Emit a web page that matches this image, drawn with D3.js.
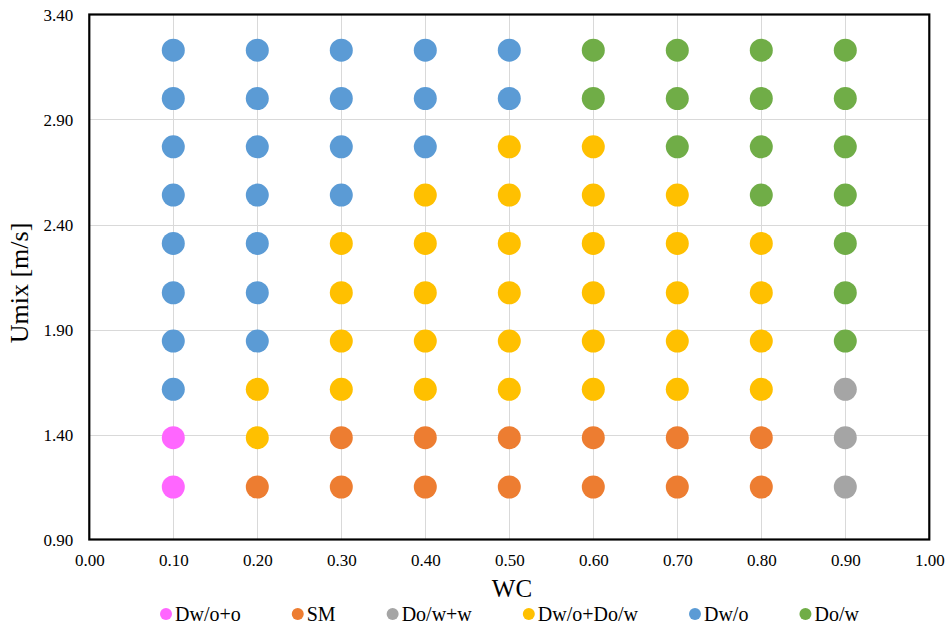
<!DOCTYPE html>
<html>
<head>
<meta charset="utf-8">
<script src="https://cdn.jsdelivr.net/npm/d3@7"></script>
<style>
  html, body { margin: 0; padding: 0; background: #fff; }
  svg { display: block; }
  svg text { font-family: "Liberation Serif", "Times New Roman", "DejaVu Serif", serif !important; fill: #000; }
</style>
</head>
<body>
<svg id="chart" width="952" height="627" font-family="Liberation Serif"></svg>
<script>
// ---- data ----
const wcValues = [0.1, 0.2, 0.3, 0.4, 0.5, 0.6, 0.7, 0.8, 0.9];
const umixRows = [1.15, 1.385, 1.615, 1.845, 2.075, 2.31, 2.54, 2.77, 3.0, 3.23];
// regime per row (bottom to top), per WC column
const regimeGrid = [
  ["Dw/o+o", "SM", "SM", "SM", "SM", "SM", "SM", "SM", "Do/w+w"],
  ["Dw/o+o", "Dw/o+Do/w", "SM", "SM", "SM", "SM", "SM", "SM", "Do/w+w"],
  ["Dw/o", "Dw/o+Do/w", "Dw/o+Do/w", "Dw/o+Do/w", "Dw/o+Do/w", "Dw/o+Do/w", "Dw/o+Do/w", "Dw/o+Do/w", "Do/w+w"],
  ["Dw/o", "Dw/o", "Dw/o+Do/w", "Dw/o+Do/w", "Dw/o+Do/w", "Dw/o+Do/w", "Dw/o+Do/w", "Dw/o+Do/w", "Do/w"],
  ["Dw/o", "Dw/o", "Dw/o+Do/w", "Dw/o+Do/w", "Dw/o+Do/w", "Dw/o+Do/w", "Dw/o+Do/w", "Dw/o+Do/w", "Do/w"],
  ["Dw/o", "Dw/o", "Dw/o+Do/w", "Dw/o+Do/w", "Dw/o+Do/w", "Dw/o+Do/w", "Dw/o+Do/w", "Dw/o+Do/w", "Do/w"],
  ["Dw/o", "Dw/o", "Dw/o", "Dw/o+Do/w", "Dw/o+Do/w", "Dw/o+Do/w", "Dw/o+Do/w", "Do/w", "Do/w"],
  ["Dw/o", "Dw/o", "Dw/o", "Dw/o", "Dw/o+Do/w", "Dw/o+Do/w", "Do/w", "Do/w", "Do/w"],
  ["Dw/o", "Dw/o", "Dw/o", "Dw/o", "Dw/o", "Do/w", "Do/w", "Do/w", "Do/w"],
  ["Dw/o", "Dw/o", "Dw/o", "Dw/o", "Dw/o", "Do/w", "Do/w", "Do/w", "Do/w"]
];
const seriesNames = ["Dw/o+o", "SM", "Do/w+w", "Dw/o+Do/w", "Dw/o", "Do/w"];
const seriesColors = ["#FF66FF", "#ED7D31", "#A5A5A5", "#FFC000", "#5B9BD5", "#70AD47"];
const xTicks = [0, 0.1, 0.2, 0.3, 0.4, 0.5, 0.6, 0.7, 0.8, 0.9, 1.0];
const yTicks = [0.9, 1.4, 1.9, 2.4, 2.9, 3.4];
const xTitle = "WC";
const yTitle = "Umix [m/s]";

// ---- layout ----
const FONT = "Liberation Serif";
const svg = d3.select("#chart");
const plot = { left: 89.3, right: 929.3, top: 14.5, bottom: 539.5 };

const x = d3.scaleLinear().domain([0, 1]).range([plot.left, plot.right]);
const y = d3.scaleLinear().domain([0.9, 3.4]).range([plot.bottom, plot.top]);
const color = d3.scaleOrdinal().domain(seriesNames).range(seriesColors);

// gridlines
const grid = svg.append("g");
grid.selectAll("line.v").data(xTicks.slice(1, -1)).join("line")
  .attr("x1", d => Math.round(x(d)) + 0.5).attr("x2", d => Math.round(x(d)) + 0.5)
  .attr("y1", plot.top).attr("y2", plot.bottom)
  .attr("stroke", "#D9D9D9").attr("stroke-width", 1);
grid.selectAll("line.h").data(yTicks.slice(1, -1)).join("line")
  .attr("y1", d => Math.round(y(d)) + 0.5).attr("y2", d => Math.round(y(d)) + 0.5)
  .attr("x1", plot.left).attr("x2", plot.right)
  .attr("stroke", "#D9D9D9").attr("stroke-width", 1);

// axes (labels only)
const xAxis = svg.append("g")
  .attr("transform", `translate(0,${plot.bottom})`)
  .call(d3.axisBottom(x).tickValues(xTicks).tickFormat(d3.format(".2f")).tickSize(0).tickPadding(10));
xAxis.attr("font-family", FONT);
xAxis.select(".domain").remove();
xAxis.selectAll("text").attr("font-family", FONT).attr("font-size", 17).attr("fill", "#000")
  .attr("dy", null).attr("y", 26);

const yAxis = svg.append("g")
  .attr("transform", `translate(${plot.left},0)`)
  .call(d3.axisLeft(y).tickValues(yTicks).tickFormat(d3.format(".2f")).tickSize(0).tickPadding(16));
yAxis.attr("font-family", FONT);
yAxis.select(".domain").remove();
yAxis.selectAll("text").attr("font-family", FONT).attr("font-size", 17).attr("fill", "#000")
  .attr("dy", "0.34em");

// points
const points = [];
umixRows.forEach((u, ri) => {
  wcValues.forEach((w, ci) => {
    points.push({ wc: w, umix: u, regime: regimeGrid[ri][ci] });
  });
});
svg.append("g").selectAll("circle").data(points).join("circle")
  .attr("cx", d => x(d.wc))
  .attr("cy", d => y(d.umix))
  .attr("r", 11.5)
  .attr("fill", d => color(d.regime));

// border
svg.append("rect")
  .attr("x", plot.left).attr("y", plot.top)
  .attr("width", plot.right - plot.left).attr("height", plot.bottom - plot.top)
  .attr("fill", "none").attr("stroke", "#000").attr("stroke-width", 2.2);

// titles
svg.append("text")
  .attr("x", 512).attr("y", 597)
  .attr("font-family", FONT)
  .attr("text-anchor", "middle").attr("font-size", 25)
  .text(xTitle);
svg.append("text")
  .attr("transform", `translate(28,${(plot.top + plot.bottom) / 2 + 6}) rotate(-90)`)
  .attr("font-family", FONT)
  .attr("text-anchor", "middle").attr("font-size", 26)
  .text(yTitle);

// legend
const legend = svg.append("g").attr("font-family", FONT);
let lx = 166;
const ly = 614;
seriesNames.forEach((name, i) => {
  const g = legend.append("g");
  g.append("circle").attr("cx", lx).attr("cy", ly).attr("r", 6).attr("fill", seriesColors[i]);
  const t = g.append("text").attr("x", lx + 9).attr("y", ly + 7)
    .attr("font-family", FONT).attr("font-size", 20).text(name);
  const w = t.node().getComputedTextLength();
  lx = lx + 9 + w + 57;
});
</script>
</body>
</html>
